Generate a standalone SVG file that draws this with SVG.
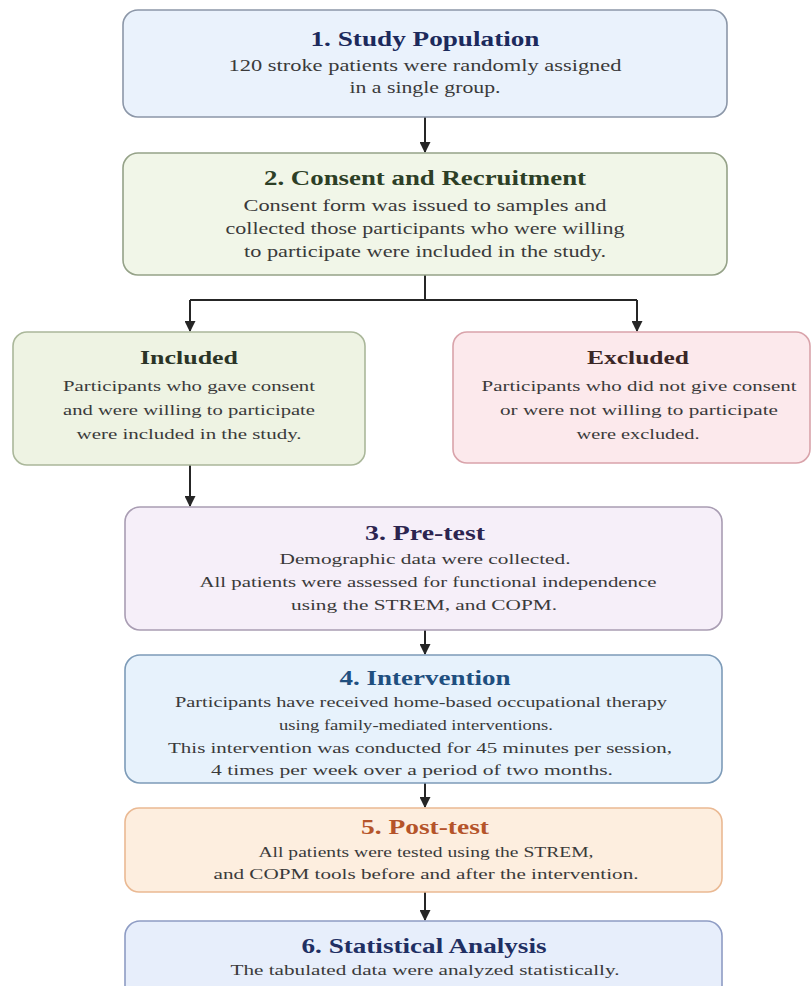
<svg xmlns="http://www.w3.org/2000/svg" width="812" height="986" viewBox="0 0 812 986">
<style>
  text { font-family: "Liberation Serif", "Times New Roman", serif; text-anchor: middle; }
  .t { font-weight: bold; font-size: 20px; }
  .ts { font-weight: bold; font-size: 19px; }
  .b { font-size: 16px; fill: #3a3a3a; }
  .bs { font-size: 15.3px; fill: #3a3a3a; }
  .box { stroke-width: 1.6; }
  .conn { fill: none; stroke: #262626; stroke-width: 2; }
</style>
<defs>
  <marker id="ah" viewBox="0 0 10 10" refX="9" refY="5" markerWidth="5.5" markerHeight="5.5" orient="auto" markerUnits="strokeWidth">
    <path d="M0,0 L10,5 L0,10 z" fill="#262626"/>
  </marker>
</defs>
<rect width="812" height="986" fill="#ffffff"/>

<g id="connectors">
  <path class="conn" d="M425,117 V152" marker-end="url(#ah)"/>
  <path class="conn" d="M425,275 V300 M190,300 H637"/>
  <path class="conn" d="M190,300 V331" marker-end="url(#ah)"/>
  <path class="conn" d="M637,300 V331" marker-end="url(#ah)"/>
  <path class="conn" d="M190,465 V506" marker-end="url(#ah)"/>
  <path class="conn" d="M425,630 V654" marker-end="url(#ah)"/>
  <path class="conn" d="M425,783 V807" marker-end="url(#ah)"/>
  <path class="conn" d="M425,892 V920" marker-end="url(#ah)"/>
</g>

<g id="n1">
  <rect class="box" x="123" y="10" width="604" height="107" rx="15" fill="#eaf2fc" stroke="#8c97a8"/>
  <text class="t" x="425" y="46" fill="#1c2a5c" textLength="229" lengthAdjust="spacingAndGlyphs">1. Study Population</text>
  <text class="b" x="425" y="71" textLength="393" lengthAdjust="spacingAndGlyphs">120 stroke patients were randomly assigned</text>
  <text class="b" x="425" y="93" textLength="151" lengthAdjust="spacingAndGlyphs">in a single group.</text>
</g>

<g id="n2">
  <rect class="box" x="123" y="153" width="604" height="122" rx="15" fill="#f1f6e8" stroke="#95a288"/>
  <text class="t" x="425" y="185" fill="#2d3f26" textLength="322" lengthAdjust="spacingAndGlyphs">2. Consent and Recruitment</text>
  <text class="b" x="425" y="211" textLength="363" lengthAdjust="spacingAndGlyphs">Consent form was issued to samples and</text>
  <text class="b" x="425" y="234" textLength="399" lengthAdjust="spacingAndGlyphs">collected those participants who were willing</text>
  <text class="b" x="425" y="257" textLength="362" lengthAdjust="spacingAndGlyphs">to participate were included in the study.</text>
</g>

<g id="included">
  <rect class="box" x="13" y="332" width="352" height="133" rx="14" fill="#eef3e3" stroke="#aab79a"/>
  <text class="ts" x="189" y="364" fill="#2a3326" textLength="98" lengthAdjust="spacingAndGlyphs">Included</text>
  <text class="bs" x="189" y="391" textLength="252" lengthAdjust="spacingAndGlyphs">Participants who gave consent</text>
  <text class="bs" x="189" y="415" textLength="252" lengthAdjust="spacingAndGlyphs">and were willing to participate</text>
  <text class="bs" x="189" y="439" textLength="225" lengthAdjust="spacingAndGlyphs">were included in the study.</text>
</g>

<g id="excluded">
  <rect class="box" x="453" y="332" width="357" height="131" rx="14" fill="#fce9ec" stroke="#d9a3aa"/>
  <text class="ts" x="638" y="364" fill="#3a2626" textLength="102" lengthAdjust="spacingAndGlyphs">Excluded</text>
  <text class="bs" x="639" y="391" textLength="315" lengthAdjust="spacingAndGlyphs">Participants who did not give consent</text>
  <text class="bs" x="639" y="415" textLength="278" lengthAdjust="spacingAndGlyphs">or were not willing to participate</text>
  <text class="bs" x="638" y="439" textLength="123" lengthAdjust="spacingAndGlyphs">were excluded.</text>
</g>

<g id="n3">
  <rect class="box" x="125" y="507" width="597" height="123" rx="15" fill="#f6eff9" stroke="#a99db3"/>
  <text class="t" x="425" y="540" fill="#2c2450" textLength="120" lengthAdjust="spacingAndGlyphs">3. Pre-test</text>
  <text class="bs" x="425" y="564" textLength="291" lengthAdjust="spacingAndGlyphs">Demographic data were collected.</text>
  <text class="bs" x="428" y="587" textLength="457" lengthAdjust="spacingAndGlyphs">All patients were assessed for functional independence</text>
  <text class="bs" x="424" y="610" textLength="266" lengthAdjust="spacingAndGlyphs">using the STREM, and COPM.</text>
</g>

<g id="n4">
  <rect class="box" x="125" y="655" width="597" height="128" rx="15" fill="#e7f2fc" stroke="#7d9bb8"/>
  <text class="t" x="425" y="685" fill="#1f4f7f" textLength="171" lengthAdjust="spacingAndGlyphs">4. Intervention</text>
  <text class="bs" x="421" y="707" textLength="492" lengthAdjust="spacingAndGlyphs">Participants have received home-based occupational therapy</text>
  <text class="bs" x="416" y="730" textLength="274" lengthAdjust="spacingAndGlyphs">using family-mediated interventions.</text>
  <text class="bs" x="420" y="753" textLength="504" lengthAdjust="spacingAndGlyphs">This intervention was conducted for 45 minutes per session,</text>
  <text class="bs" x="412" y="775" textLength="402" lengthAdjust="spacingAndGlyphs">4 times per week over a period of two months.</text>
</g>

<g id="n5">
  <rect class="box" x="125" y="808" width="597" height="84" rx="14" fill="#fdeedf" stroke="#eab993"/>
  <text class="t" x="425" y="834" fill="#b5542a" textLength="128" lengthAdjust="spacingAndGlyphs">5. Post-test</text>
  <text class="bs" x="426" y="857" textLength="335" lengthAdjust="spacingAndGlyphs">All patients were tested using the STREM,</text>
  <text class="bs" x="426" y="879" textLength="425" lengthAdjust="spacingAndGlyphs">and COPM tools before and after the intervention.</text>
</g>

<g id="n6">
  <rect class="box" x="125" y="921" width="597" height="90" rx="15" fill="#e7eefb" stroke="#8e9cc4"/>
  <text class="t" x="424" y="953" fill="#1f2f63" textLength="245" lengthAdjust="spacingAndGlyphs">6. Statistical Analysis</text>
  <text class="bs" x="425" y="975" textLength="389" lengthAdjust="spacingAndGlyphs">The tabulated data were analyzed statistically.</text>
</g>
</svg>
